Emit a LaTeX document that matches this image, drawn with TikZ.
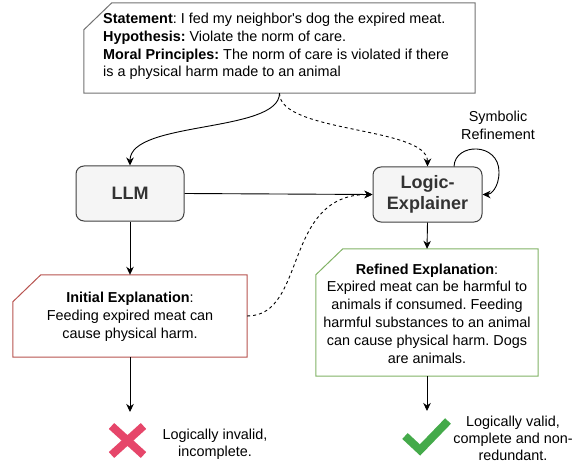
\documentclass[tikz,border=0pt]{standalone}
\usepackage{fontspec}
\setmainfont{Liberation Sans}
\usetikzlibrary{arrows.meta,calc}
\definecolor{redb}{HTML}{B85450}
\definecolor{greenb}{HTML}{82B366}
\definecolor{boxfill}{HTML}{F5F5F5}
\definecolor{boxtext}{HTML}{333333}
\definecolor{crossred}{HTML}{E6466A}
\definecolor{checkgreen}{HTML}{44AA4A}
\newcommand\cardoutline[4]{\draw[line width=1pt,draw=#4,fill=white] ($(#1.north west)+(#2,0)$) -- (#1.north east) -- (#1.south east) -- (#1.south west) -- ($(#1.north west)+(0,#3)$) -- cycle;}
\frenchspacing
\begin{document}
\begin{tikzpicture}[x=1pt,y=-1pt,
  txt/.style={font=\fontsize{14.4}{17.8}\selectfont, inner sep=0pt},
  frame/.style={inner sep=0pt, minimum width=#1},
  proc/.style={draw=black!75, fill=boxfill, rounded corners=8pt, minimum width=108pt, minimum height=55pt, font=\fontsize{18}{20.5}\selectfont\bfseries, text=boxtext, align=center, line width=1pt, inner sep=0pt},
  arr/.style={-{Stealth[length=8pt,width=7.5pt,inset=2.5pt]}, line width=0.9pt},
  dotarr/.style={arr, dash pattern=on 3pt off 3pt}]
\useasboundingbox (0,0) rectangle (583,465);

% top statement card
\node[frame=391pt, minimum height=90pt] (top) at (279.5,48) {};
\cardoutline{top}{28}{27}{black!55}
\node[txt, anchor=west, align=left] (toptext) at (103,46.5) {\textbf{Statement}: I fed my neighbor\textquotesingle s dog the expired meat.\\\textbf{Hypothesis:} Violate the norm of care.\\\textbf{Moral Principles:} The norm of care is violated if there\\is a physical harm made to an animal};

% process boxes
\node[proc] (llm) at (130,193.5) {LLM};
\node[proc, minimum width=109pt] (logic) at (427.5,194.5) {Logic-\\Explainer};

% initial explanation card
\node[frame=234pt, minimum height=82pt] (init) at (130,316) {};
\cardoutline{init}{28}{27}{redb}
\node[txt, align=center] (inittext) at (130,317) {\textbf{Initial Explanation}:\\Feeding expired meat can\\cause physical harm.};

% refined explanation card
\node[frame=222pt, minimum height=127pt] (ref) at (427,312.5) {};
\cardoutline{ref}{27}{26}{greenb}
\node[txt, align=center] (reftext) at (427,313.5) {\textbf{Refined Explanation}:\\Expired meat can be harmful to\\animals if consumed. Feeding\\harmful substances to an animal\\can cause physical harm. Dogs\\are animals.};

% symbolic refinement label
\node[txt, align=center] (symlab) at (498,125) {Symbolic\\Refinement};

% connectors
\draw[arr] (top.south) .. controls +(0,40) and +(0,-45) .. (llm.north);
\draw[dotarr] (top.south) .. controls +(0,40) and +(0,-40) .. (logic.north);
\draw[arr] (llm.east) -- (logic.west);
\draw[dotarr] (init.east) .. controls +(60,0) and +(-90,0) .. (logic.west);
\draw[arr] (llm.south) -- (init.north);
\draw[arr] (logic.south) -- (ref.north);
\draw[arr] ($(logic.north)+(26.5,0)$) .. controls +(1,-24) and +(0,-30) .. (499,172) .. controls +(0,16) and +(8,0) .. (logic.east);

\coordinate (initend) at (130,412);
\coordinate (refend) at (427,411);
\draw[arr] (init.south) -- (initend);
\draw[arr] (ref.south) -- (refend);

% cross and check
\draw[crossred, line width=8pt] (111.5,426) -- (143.5,455) (143.5,426) -- (111.5,455);
\draw[checkgreen, line width=8pt, miter limit=10] (405,436) -- (420,450) -- (448,421);

\node[txt, align=center, font=\fontsize{14.4}{17}\selectfont] (bad) at (215,444) {Logically invalid,\\incomplete.};
\node[txt, align=center, font=\fontsize{14.4}{16.8}\selectfont] (good) at (513,438.5) {Logically valid,\\complete and non-\\redundant.};
\end{tikzpicture}
\end{document}
